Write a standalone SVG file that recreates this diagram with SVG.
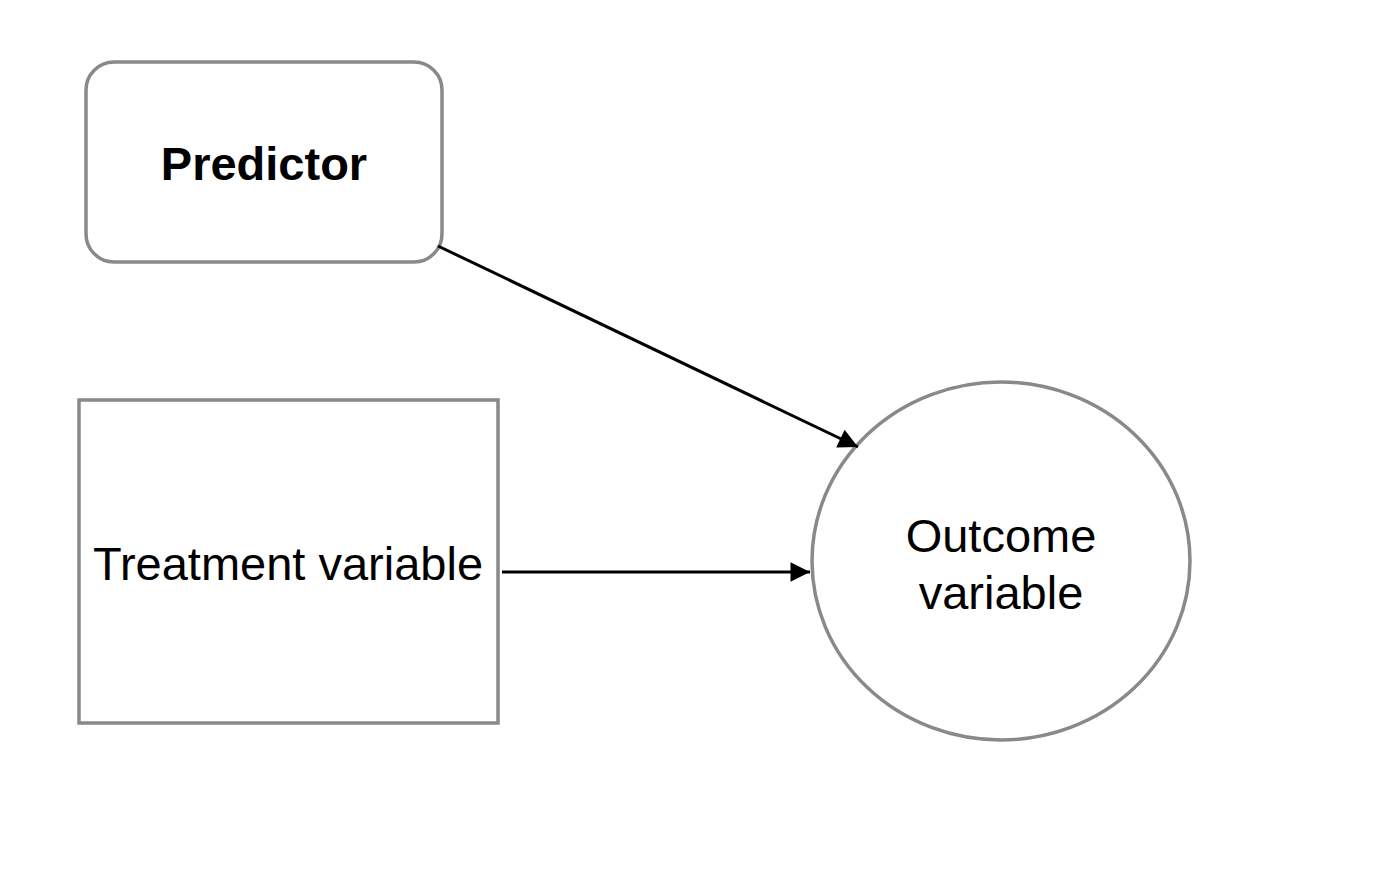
<svg xmlns="http://www.w3.org/2000/svg" width="1384" height="874" viewBox="0 0 1384 874">
<defs>
<style>
.shape{fill:#ffffff;stroke:#88898c;stroke-width:3.5}
.edge{fill:none;stroke:#000000;stroke-width:3}
.lbl{font-family:"Liberation Sans",Arial,sans-serif;font-size:47px;fill:#000000;text-anchor:middle}
.bold{font-weight:bold}
</style>
<marker id="arr" viewBox="0 0 10 10" refX="10" refY="5" markerWidth="7" markerHeight="6.5" markerUnits="strokeWidth" orient="auto">
<path d="M0,0 L10,5 L0,10 Z" fill="#000000"/>
</marker>
</defs>
<rect width="1384" height="874" fill="#ffffff"/>
<g id="predictor">
<rect class="shape" x="86" y="62" width="356" height="200" rx="28" ry="28"/>
<text class="lbl bold" x="264" y="180">Predictor</text>
</g>
<g id="treatment">
<rect class="shape" x="79" y="400" width="419" height="323"/>
<text class="lbl" x="288" y="580">Treatment variable</text>
</g>
<g id="outcome">
<ellipse class="shape" cx="1001" cy="561" rx="189" ry="179"/>
<text class="lbl" x="1001" y="552">Outcome</text>
<text class="lbl" x="1001" y="609">variable</text>
</g>
<g id="connectors">
<line class="edge" x1="438" y1="246" x2="858" y2="447" marker-end="url(#arr)"/>
<line class="edge" x1="502" y1="572" x2="810" y2="572" marker-end="url(#arr)"/>
</g>
</svg>
